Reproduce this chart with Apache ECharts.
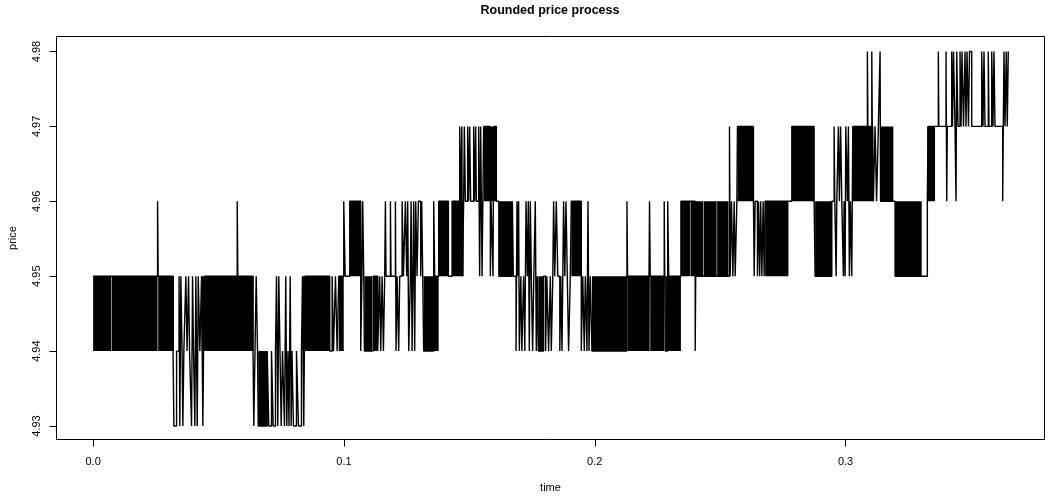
<!DOCTYPE html>
<html><head><meta charset="utf-8">
<script src="https://cdn.jsdelivr.net/npm/echarts@6/dist/echarts.min.js"></script>
<style>html,body{margin:0;padding:0;background:#fff}#c{width:1054px;height:497px}</style>
</head><body><div id="c"></div>
<script>
// Step path of the rounded price: time at which the price switches, and the new price
const times = [
0.00000,0.02570,0.02594,0.03187,0.03219,0.03327,0.03426,0.03458,0.03498,0.03546,
0.03578,0.03618,0.03697,0.03745,0.03805,0.03845,0.03924,0.03964,0.04004,0.04056,
0.04096,0.04151,0.04191,0.04255,0.04323,0.04375,0.04402,0.04442,0.05745,0.05769,
0.06375,0.06406,0.06454,0.06502,0.06554,0.06582,0.06940,0.07004,0.07112,0.07179,
0.07271,0.07311,0.07363,0.07402,0.07450,0.07498,0.07550,0.07629,0.07681,0.07721,
0.07769,0.07809,0.07857,0.07896,0.07928,0.07988,0.08108,0.08187,0.08307,0.08347,
0.08398,0.08446,0.09434,0.09530,0.09582,0.09661,0.09729,0.09793,0.09992,0.10048,
0.10231,0.10669,0.10717,0.10749,0.10789,0.10817,0.11163,0.11347,0.11426,0.11466,
0.11522,0.11574,0.11625,0.11653,0.11677,0.11853,0.11876,0.12052,0.12076,0.12120,
0.12183,0.12223,0.12319,0.12371,0.12450,0.12502,0.12542,0.12582,0.12649,0.12677,
0.12717,0.12781,0.12821,0.12861,0.12916,0.12968,0.13060,0.13100,0.13140,0.13179,
0.13578,0.13618,0.13777,0.14163,0.14311,0.14614,0.14653,0.14701,0.14721,0.14773,
0.14801,0.14841,0.14932,0.14972,0.15012,0.15052,0.15171,0.15211,0.15251,0.15279,
0.15371,0.15410,0.15450,0.15506,0.15570,0.15837,0.15865,0.15944,0.15968,0.16076,
0.16175,0.16713,0.16753,0.16861,0.16900,0.16932,0.16964,0.16992,0.17052,0.17092,
0.17163,0.17211,0.17259,0.17311,0.17351,0.17390,0.17430,0.17470,0.17522,0.17570,
0.17629,0.17669,0.17709,0.17749,0.17960,0.18040,0.18088,0.18159,0.18227,0.18267,
0.18327,0.18359,0.18406,0.18466,0.18526,0.18606,0.18645,0.18693,0.18757,0.18805,
0.18853,0.18904,0.18956,0.19024,0.19064,0.19462,0.19522,0.19582,0.19622,0.19689,
0.19729,0.19769,0.19821,0.19888,0.21283,0.21307,0.22143,0.22183,0.22211,0.22769,
0.22809,0.22908,0.22948,0.23434,0.24004,0.24024,0.25371,0.25398,0.25450,0.25506,
0.25558,0.25598,0.25665,0.25689,0.26327,0.26355,0.26394,0.26486,0.26526,0.26574,
0.26614,0.26661,0.26713,0.26753,0.26793,0.27857,0.28745,0.28785,0.29450,0.29542,
0.29570,0.29622,0.29650,0.29713,0.29753,0.29801,0.29849,0.29912,0.29940,0.29980,
0.30008,0.30072,0.30112,0.30151,0.30191,0.30247,0.30287,0.30869,0.30889,0.31044,
0.31064,0.31108,0.31175,0.31235,0.31307,0.31375,0.31394,0.31972,0.33259,0.33287,
0.33697,0.33717,0.34004,0.34032,0.34056,0.34231,0.34263,0.34303,0.34363,0.34402,
0.34430,0.34482,0.34562,0.34602,0.34641,0.34701,0.34761,0.34801,0.34841,0.34900,
0.34940,0.35028,0.35426,0.35478,0.35518,0.35558,0.35689,0.35717,0.35825,0.35876,
0.35916,0.35956,0.36263,0.36287,0.36315,0.36355,0.36406,0.36446,0.36486
];
const prices = [
4.95,4.96,4.95,4.94,4.93,4.94,4.95,4.93,4.95,4.94,
4.93,4.94,4.95,4.94,4.95,4.94,4.93,4.95,4.94,4.93,
4.95,4.93,4.95,4.94,4.95,4.93,4.94,4.95,4.96,4.95,
4.94,4.93,4.94,4.95,4.94,4.93,4.94,4.93,4.94,4.93,
4.94,4.95,4.93,4.95,4.94,4.93,4.94,4.93,4.95,4.93,
4.94,4.93,4.95,4.93,4.94,4.93,4.94,4.93,4.94,4.95,
4.93,4.95,4.94,4.95,4.94,4.95,4.94,4.95,4.96,4.95,
4.96,4.94,4.95,4.96,4.95,4.94,4.95,4.94,4.95,4.94,
4.95,4.94,4.95,4.96,4.95,4.96,4.95,4.96,4.94,4.95,
4.94,4.95,4.96,4.95,4.96,4.95,4.96,4.94,4.95,4.96,
4.94,4.96,4.94,4.96,4.95,4.96,4.95,4.96,4.95,4.94,
4.96,4.95,4.96,4.95,4.96,4.97,4.96,4.97,4.95,4.96,
4.97,4.96,4.97,4.96,4.97,4.96,4.97,4.96,4.97,4.96,
4.97,4.95,4.97,4.95,4.97,4.95,4.96,4.95,4.97,4.96,
4.95,4.96,4.95,4.94,4.96,4.95,4.96,4.94,4.95,4.94,
4.95,4.94,4.96,4.95,4.96,4.94,4.96,4.95,4.94,4.95,
4.96,4.94,4.95,4.94,4.95,4.94,4.95,4.94,4.95,4.94,
4.95,4.96,4.95,4.96,4.95,4.94,4.95,4.94,4.96,4.95,
4.96,4.95,4.94,4.95,4.96,4.94,4.95,4.94,4.95,4.94,
4.96,4.94,4.95,4.94,4.96,4.95,4.94,4.96,4.95,4.96,
4.94,4.96,4.95,4.96,4.94,4.95,4.97,4.95,4.96,4.95,
4.96,4.95,4.96,4.97,4.96,4.95,4.96,4.95,4.96,4.95,
4.96,4.95,4.96,4.95,4.96,4.97,4.96,4.95,4.96,4.97,
4.96,4.95,4.96,4.97,4.96,4.97,4.96,4.95,4.96,4.95,
4.97,4.96,4.97,4.95,4.96,4.95,4.97,4.98,4.97,4.98,
4.97,4.96,4.97,4.96,4.97,4.98,4.96,4.95,4.96,4.97,
4.98,4.97,4.98,4.96,4.97,4.98,4.97,4.98,4.97,4.96,
4.98,4.97,4.98,4.97,4.98,4.97,4.98,4.97,4.98,4.97,
4.98,4.97,4.98,4.97,4.98,4.97,4.98,4.97,4.98,4.97,
4.98,4.97,4.96,4.97,4.98,4.97,4.98,4.97,4.98
];
// Stretches where the price flips between two levels too fast to resolve (solid blocks)
const bandStart = [0.00000,0.00747,0.02594,0.04323,0.06582,0.08347,0.09793,0.10231,0.10817,0.11163,0.13179,0.13777,0.14311,0.15570,0.16175,0.17749,0.19064,0.19888,0.21307,0.22211,0.22809,0.23434,0.23815,0.24345,0.24879,0.25689,0.26793,0.27857,0.28785,0.30287,0.31375,0.31972,0.33259];
const bandEnd   = [0.00727,0.02570,0.03219,0.06394,0.06940,0.09434,0.09992,0.10657,0.11124,0.11347,0.13777,0.14163,0.14773,0.16076,0.16713,0.17960,0.19462,0.21283,0.22183,0.22769,0.23434,0.23795,0.24325,0.24859,0.25331,0.26327,0.27721,0.28745,0.29450,0.31108,0.31904,0.33036,0.33566];
const bandLow   = [4.94,4.94,4.94,4.94,4.93,4.94,4.94,4.95,4.94,4.94,4.94,4.95,4.95,4.96,4.95,4.94,4.95,4.94,4.94,4.94,4.94,4.95,4.95,4.95,4.95,4.96,4.95,4.96,4.95,4.96,4.96,4.95,4.96];
const bandHigh  = [4.95,4.95,4.95,4.95,4.94,4.95,4.95,4.96,4.95,4.95,4.95,4.96,4.96,4.97,4.96,4.95,4.96,4.95,4.95,4.95,4.95,4.96,4.96,4.96,4.96,4.97,4.96,4.97,4.96,4.97,4.97,4.96,4.97];

const xTicks = [0, 0.1, 0.2, 0.3];
const yTicks = [4.93, 4.94, 4.95, 4.96, 4.97, 4.98];
const titleText = 'Rounded price process';
const xName = 'time';
const yName = 'price';

const FONT = '"Liberation Sans", Arial, Helvetica, sans-serif';
const chart = echarts.init(document.getElementById('c'), null, {renderer: 'canvas'});

// R type="s": hold the old price until the next switch time, then jump vertically
const pathData = [];
times.forEach((t, i) => {
  if (i > 0) pathData.push([t, prices[i - 1]]);
  pathData.push([t, prices[i]]);
});
const bandData = bandStart.map((s, i) => [s, bandEnd[i], bandLow[i], bandHigh[i]]);

chart.setOption({
  animation: false,
  backgroundColor: '#ffffff',
  graphic: [{
    type: 'text', x: 550, y: 11, silent: true,
    style: {text: titleText, fill: '#000', font: 'bold 12.5px ' + FONT, align: 'center', verticalAlign: 'middle'}
  }],
  grid: {left: 56.5, right: 9.5, top: 36.5, bottom: 57.5, outerBoundsMode: 'none', containLabel: false,
         show: true, borderColor: '#000', borderWidth: 1, backgroundColor: 'transparent'},
  xAxis: {
    type: 'value', min: -0.0146, max: 0.3793,
    name: xName, nameLocation: 'middle', nameGap: 43,
    nameTextStyle: {color: '#000', fontSize: 11, fontFamily: FONT},
    axisLine: {show: false, onZero: false},
    axisTick: {show: true, inside: false, length: 7, customValues: xTicks, lineStyle: {color: '#000', width: 1}},
    axisLabel: {customValues: xTicks, formatter: v => Number(v).toFixed(1), margin: 17, color: '#000', fontSize: 11, fontFamily: FONT},
    splitLine: {show: false}
  },
  yAxis: {
    type: 'value', min: 4.9282, max: 4.982,
    name: yName, nameLocation: 'middle', nameGap: 38, nameRotate: 90,
    nameTextStyle: {color: '#000', fontSize: 11, fontFamily: FONT},
    axisLine: {show: false, onZero: false},
    axisTick: {show: true, inside: false, length: 7, customValues: yTicks, lineStyle: {color: '#000', width: 1}},
    axisLabel: {customValues: yTicks, rotate: 90, formatter: v => Number(v).toFixed(2), margin: 14, color: '#000', fontSize: 11, fontFamily: FONT},
    splitLine: {show: false}
  },
  series: [
    {
      type: 'custom', silent: true, clip: true,
      data: bandData,
      encode: {x: [0, 1], y: [2, 3]},
      renderItem: function (params, api) {
        const a = api.coord([api.value(0), api.value(3)]);
        const b = api.coord([api.value(1), api.value(2)]);
        return {type: 'rect', shape: {x: a[0], y: a[1], width: Math.max(b[0] - a[0], 1), height: b[1] - a[1]}, style: {fill: '#000'}};
      }
    },
    {
      type: 'line', silent: true,
      data: pathData, showSymbol: false, symbol: 'none',
      lineStyle: {color: '#000', width: 1.4}
    }
  ]
});
</script>
</body></html>
